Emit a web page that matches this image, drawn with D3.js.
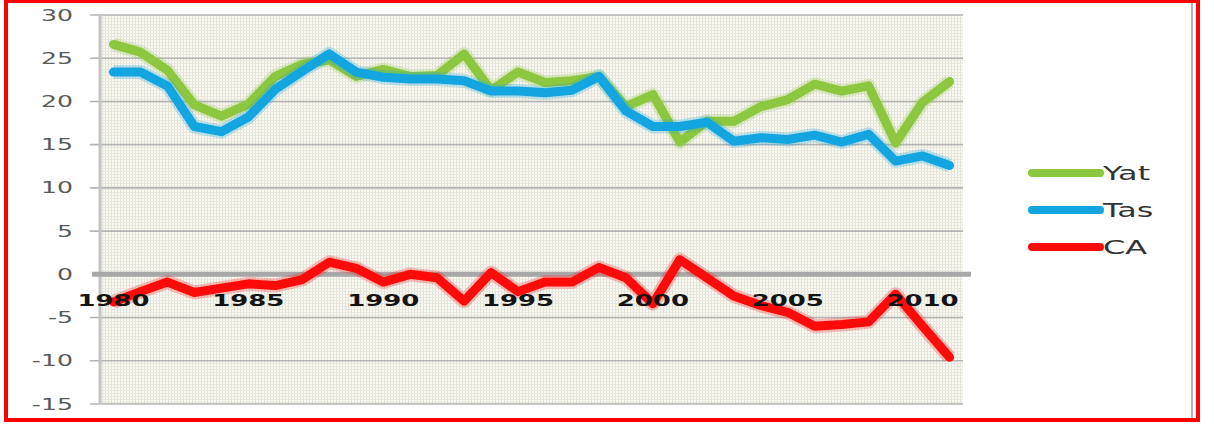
<!DOCTYPE html>
<html>
<head>
<meta charset="utf-8">
<script src="https://cdn.jsdelivr.net/npm/d3@7"></script>
<style>
  body { margin: 0; background: #fff; }
  text { font-family: "DejaVu Sans", sans-serif; }
</style>
</head>
<body>
<svg id="chart" width="1214" height="425"></svg>
<script>
// data
var years = d3.range(1980, 2012);
var yat = [26.6, 25.7, 23.6, 19.6, 18.3, 19.7, 22.9, 24.3, 24.8, 22.9, 23.7, 22.9, 23.0, 25.5, 21.3, 23.4,
           22.2, 22.4, 22.9, 19.4, 20.8, 15.3, 17.7, 17.7, 19.4, 20.2, 22.0, 21.2, 21.8, 15.2, 19.9, 22.3];
var tas = [23.4, 23.4, 21.8, 17.1, 16.5, 18.2, 21.4, 23.5, 25.5, 23.4, 22.8, 22.6, 22.6, 22.4, 21.2, 21.2,
           21.0, 21.3, 22.9, 18.9, 17.1, 17.1, 17.6, 15.4, 15.8, 15.6, 16.1, 15.3, 16.2, 13.1, 13.7, 12.6];
var ca  = [-3.2, -2.0, -0.9, -2.1, -1.6, -1.1, -1.3, -0.6, 1.4, 0.7, -0.9, 0.0, -0.4, -3.1, 0.2, -2.0,
           -0.9, -0.9, 0.8, -0.4, -3.4, 1.7, -0.4, -2.5, -3.6, -4.4, -6.0, -5.8, -5.5, -2.3, -6.0, -9.6];
var yTicks = [30, 25, 20, 15, 10, 5, 0, -5, -10, -15];
var xLabels = [1980, 1985, 1990, 1995, 2000, 2005, 2010];
var seriesNames = ["Yat", "Tas", "CA"];
var seriesColors = ["#8dc63f", "#12a5e0", "#ff0a0a"];

var svg = d3.select("#chart");
var stretch = 1.68;   // picture is stretched sideways

var x = d3.scalePoint().domain(years).range([100, 963]).padding(0.5);
var y = d3.scaleLinear().domain([-15, 30]).range([404, 15]);

// plot background pattern
var defs = svg.append("defs");
var pat = defs.append("pattern").attr("id", "dots")
    .attr("width", 3).attr("height", 3).attr("patternUnits", "userSpaceOnUse");
pat.append("rect").attr("width", 3).attr("height", 3).attr("fill", "#fafaf0");
pat.append("rect").attr("width", 1).attr("height", 3).attr("fill", "#e2e2da");
pat.append("rect").attr("width", 3).attr("height", 1).attr("fill", "#e8e8e0");

svg.append("rect")
    .attr("x", 100).attr("y", 15)
    .attr("width", 863).attr("height", 389)
    .attr("fill", "url(#dots)");

// gridlines + ticks
svg.append("g").selectAll("line")
  .data(yTicks.filter(function(d) { return d != 0; }))
  .enter().append("line")
    .attr("x1", 90).attr("x2", 963)
    .attr("y1", function(d) { return y(d); })
    .attr("y2", function(d) { return y(d); })
    .style("stroke", "#b4b4b4").style("stroke-width", 1.6);

// y axis line
svg.append("line")
    .attr("x1", 100).attr("x2", 100).attr("y1", 15).attr("y2", 404)
    .style("stroke", "#c4c4c4").style("stroke-width", 3);

// y labels
svg.append("g").selectAll("text")
  .data(yTicks)
  .enter().append("text")
    .attr("transform", function(d) { return "translate(73," + (y(d) + 5.5) + ") scale(" + stretch + ",1)"; })
    .attr("text-anchor", "end")
    .style("font-size", "15px")
    .style("fill", "#5a5a5a")
    .text(function(d) { return d; });

// zero axis
svg.append("line")
    .attr("x1", 92).attr("x2", 971).attr("y1", y(0)).attr("y2", y(0))
    .style("stroke", "#a8a8a8").style("stroke-width", 5);

// lines
var line = d3.line()
    .x(function(d, i) { return x(years[i]); })
    .y(function(d) { return y(d); });

[yat, tas, ca].forEach(function(vals, k) {
  svg.append("path")
    .attr("d", line(vals))
    .style("fill", "none")
    .style("stroke", seriesColors[k])
    .style("stroke-opacity", 0.25)
    .style("stroke-width", 14)
    .style("stroke-linejoin", "round");
  svg.append("path")
    .attr("d", line(vals))
    .style("fill", "none")
    .style("stroke", seriesColors[k])
    .style("stroke-width", 9)
    .style("stroke-linejoin", "round")
    .style("stroke-linecap", "round");
});

// x labels (sit on top of the lines)
svg.append("g").selectAll("text")
  .data(xLabels)
  .enter().append("text")
    .attr("transform", function(d) { return "translate(" + x(d) + ",306) scale(1.62,1)"; })
    .attr("text-anchor", "middle")
    .style("font-size", "16px")
    .style("font-weight", "bold")
    .style("fill", "#141414")
    .text(function(d) { return d; });

// legend
var leg = svg.append("g").selectAll("g")
  .data(seriesNames)
  .enter().append("g")
    .attr("transform", function(d, i) { return "translate(0," + (173 + i * 37) + ")"; });
leg.append("line")
    .attr("x1", 1032).attr("x2", 1100)
    .style("stroke", function(d, i) { return seriesColors[i]; })
    .style("stroke-width", 8)
    .style("stroke-linecap", "round");
leg.append("text")
    .attr("transform", "translate(1103,7) scale(" + stretch + ",1)")
    .style("font-size", "19px")
    .style("fill", "#333")
    .text(function(d) { return d; });

// frame
svg.append("line")
    .attr("x1", 1192).attr("x2", 1192).attr("y1", 2).attr("y2", 419)
    .style("stroke", "#9a9ab4").style("stroke-width", 1.5);
svg.append("rect")
    .attr("x", 6).attr("y", 1)
    .attr("width", 1192).attr("height", 419)
    .style("fill", "none")
    .style("stroke", "#ff0000")
    .style("stroke-width", 4);
</script>
</body>
</html>
